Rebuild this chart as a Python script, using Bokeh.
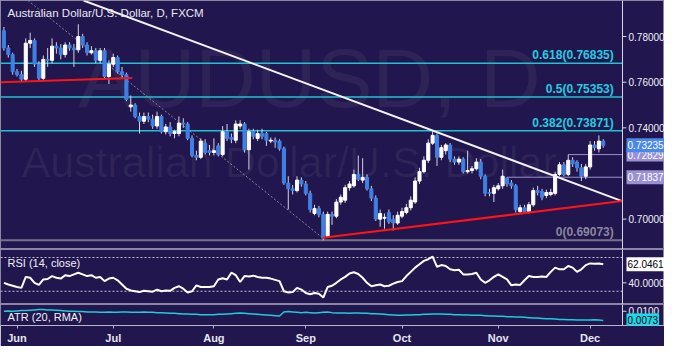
from bokeh.plotting import figure
from bokeh.models import ColumnDataSource, Range1d, FixedTicker, Span, Label
from bokeh.layouts import column
from bokeh.embed import file_html
from bokeh.resources import INLINE

# ---------------- data ----------------
opens = [0.7825, 0.7750, 0.7721, 0.7646, 0.7633, 0.7613, 0.7771, 0.7783, 0.7679, 0.7617,
         0.7700, 0.7696, 0.7758, 0.7750, 0.7721, 0.7763, 0.7750, 0.7742, 0.7800, 0.7763,
         0.7729, 0.7738, 0.7696, 0.7738, 0.7625, 0.7679, 0.7708, 0.7646, 0.7633, 0.7492,
         0.7500, 0.7450, 0.7429, 0.7450, 0.7438, 0.7408, 0.7450, 0.7383, 0.7404, 0.7375,
         0.7375, 0.7421, 0.7417, 0.7354, 0.7279, 0.7271, 0.7333, 0.7300, 0.7292, 0.7321,
         0.7283, 0.7383, 0.7358, 0.7346, 0.7408, 0.7417, 0.7304, 0.7383, 0.7354, 0.7375,
         0.7375, 0.7342, 0.7346, 0.7342, 0.7308, 0.7158, 0.7133, 0.7125, 0.7171, 0.7154,
         0.7113, 0.7025, 0.7046, 0.7021, 0.6925, 0.7021, 0.7013, 0.7075, 0.7083, 0.7138,
         0.7146, 0.7196, 0.7171, 0.7183, 0.7133, 0.7092, 0.7000, 0.7004, 0.7029, 0.7000,
         0.6983, 0.7013, 0.7029, 0.7050, 0.7075, 0.7167, 0.7208, 0.7258, 0.7333, 0.7367,
         0.7271, 0.7300, 0.7325, 0.7263, 0.7250, 0.7263, 0.7208, 0.7213, 0.7221, 0.7250,
         0.7188, 0.7117, 0.7113, 0.7133, 0.7146, 0.7180, 0.7158, 0.7146, 0.7033, 0.7050,
         0.7033, 0.7063, 0.7125, 0.7121, 0.7104, 0.7108, 0.7113, 0.7196, 0.7238, 0.7196,
         0.7258, 0.7250, 0.7225, 0.7188, 0.7229, 0.7325, 0.7308, 0.7342]
highs = [0.7842, 0.7763, 0.7729, 0.7658, 0.7650, 0.7792, 0.7817, 0.7792, 0.7692, 0.7717,
         0.7750, 0.7792, 0.7775, 0.7767, 0.7775, 0.7775, 0.7767, 0.7854, 0.7812, 0.7775,
         0.7758, 0.7750, 0.7750, 0.7750, 0.7696, 0.7725, 0.7717, 0.7667, 0.7642, 0.7542,
         0.7508, 0.7467, 0.7467, 0.7467, 0.7458, 0.7471, 0.7458, 0.7417, 0.7425, 0.7392,
         0.7450, 0.7442, 0.7425, 0.7367, 0.7300, 0.7354, 0.7350, 0.7325, 0.7354, 0.7333,
         0.7408, 0.7417, 0.7375, 0.7433, 0.7433, 0.7425, 0.7396, 0.7396, 0.7392, 0.7396,
         0.7383, 0.7358, 0.7358, 0.7350, 0.7317, 0.7188, 0.7150, 0.7188, 0.7183, 0.7167,
         0.7125, 0.7063, 0.7058, 0.7033, 0.7033, 0.7033, 0.7088, 0.7108, 0.7150, 0.7167,
         0.7217, 0.7279, 0.7267, 0.7196, 0.7146, 0.7104, 0.7042, 0.7025, 0.7042, 0.7017,
         0.7033, 0.7050, 0.7067, 0.7100, 0.7183, 0.7225, 0.7275, 0.7350, 0.7388, 0.7375,
         0.7325, 0.7333, 0.7333, 0.7275, 0.7275, 0.7271, 0.7300, 0.7233, 0.7267, 0.7263,
         0.7196, 0.7133, 0.7150, 0.7158, 0.7217, 0.71837, 0.7171, 0.7154, 0.7063, 0.7063,
         0.7075, 0.7138, 0.7146, 0.7133, 0.7129, 0.7133, 0.7208, 0.7250, 0.7250, 0.72829,
         0.7271, 0.7258, 0.7242, 0.7242, 0.7342, 0.7342, 0.7367, 0.7350]
lows = [0.7738, 0.7708, 0.7633, 0.7625, 0.7600, 0.7604, 0.7750, 0.7667, 0.7608, 0.7608,
        0.7667, 0.7683, 0.7725, 0.7700, 0.7708, 0.7738, 0.7667, 0.7729, 0.7750, 0.7717,
        0.7721, 0.7683, 0.7683, 0.7613, 0.7592, 0.7667, 0.7638, 0.7617, 0.7517, 0.7471,
        0.7442, 0.7375, 0.7417, 0.7425, 0.7396, 0.7396, 0.7375, 0.7371, 0.7363, 0.7354,
        0.7363, 0.7400, 0.7346, 0.7271, 0.7258, 0.7263, 0.7283, 0.7279, 0.7279, 0.7275,
        0.7275, 0.7342, 0.7333, 0.7333, 0.7396, 0.7292, 0.7217, 0.7350, 0.7342, 0.7350,
        0.7321, 0.7333, 0.7313, 0.7300, 0.7150, 0.7042, 0.7108, 0.7117, 0.7142, 0.7104,
        0.7029, 0.7017, 0.7008, 0.6907, 0.6917, 0.6975, 0.7004, 0.7063, 0.7071, 0.7125,
        0.7138, 0.7167, 0.7158, 0.7125, 0.7079, 0.6992, 0.6967, 0.6958, 0.6979, 0.6950,
        0.6975, 0.7004, 0.7021, 0.7038, 0.7067, 0.7154, 0.7200, 0.7246, 0.7325, 0.7233,
        0.7258, 0.7283, 0.7250, 0.7238, 0.7238, 0.7200, 0.7200, 0.7200, 0.7213, 0.7175,
        0.7100, 0.7100, 0.7075, 0.7125, 0.7133, 0.7142, 0.7133, 0.7029, 0.7025, 0.7025,
        0.7025, 0.7054, 0.7104, 0.7083, 0.7092, 0.7100, 0.7104, 0.7188, 0.7188, 0.7188,
        0.7229, 0.7208, 0.7167, 0.7175, 0.7217, 0.7300, 0.7292, 0.7313]
closes = [0.7750, 0.7721, 0.7646, 0.7633, 0.7613, 0.7771, 0.7783, 0.7679, 0.7617, 0.7700,
          0.7696, 0.7758, 0.7750, 0.7721, 0.7763, 0.7750, 0.7742, 0.7800, 0.7763, 0.7729,
          0.7738, 0.7696, 0.7738, 0.7625, 0.7679, 0.7708, 0.7646, 0.7633, 0.7525, 0.7500,
          0.7450, 0.7429, 0.7450, 0.7438, 0.7408, 0.7450, 0.7383, 0.7404, 0.7375, 0.7383,
          0.7421, 0.7417, 0.7354, 0.7279, 0.7271, 0.7342, 0.7292, 0.7292, 0.7300, 0.7283,
          0.7383, 0.7354, 0.7350, 0.7417, 0.7417, 0.7304, 0.7383, 0.7363, 0.7375, 0.7363,
          0.7346, 0.7346, 0.7338, 0.7308, 0.7158, 0.7133, 0.7125, 0.7171, 0.7154, 0.7113,
          0.7042, 0.7046, 0.7021, 0.6917, 0.7021, 0.7013, 0.7075, 0.7096, 0.7138, 0.7154,
          0.7196, 0.7175, 0.7183, 0.7133, 0.7092, 0.7000, 0.7025, 0.7008, 0.6988, 0.6983,
          0.7017, 0.7033, 0.7050, 0.7083, 0.7167, 0.7208, 0.7258, 0.7333, 0.7367, 0.7271,
          0.7313, 0.7325, 0.7263, 0.7250, 0.7263, 0.7208, 0.7213, 0.7221, 0.7250, 0.7188,
          0.7113, 0.7113, 0.7138, 0.7146, 0.7188, 0.7154, 0.7146, 0.7042, 0.7050, 0.7033,
          0.7063, 0.7125, 0.7117, 0.7096, 0.7117, 0.7117, 0.7196, 0.7238, 0.7196, 0.7258,
          0.7242, 0.7225, 0.7188, 0.7229, 0.7325, 0.7313, 0.7342, 0.73235]
rsi = [40, 38, 36.5, 35, 34, 47, 46, 40, 37.5, 44,
       44.5, 48, 46, 45, 49, 48, 50, 52, 50, 48,
       49, 46, 47, 42, 45, 46, 43, 38, 33, 31,
       30, 29, 30.5, 30, 29.5, 32, 30, 31, 30.5, 34,
       36, 33, 28.5, 30, 37, 35, 35, 35, 36, 44,
       45.5, 44, 52, 49, 41, 48, 47.5, 48.5, 47, 46,
       46, 45, 43.5, 42, 30, 28.5, 29, 34, 32, 28,
       26.5, 28, 27, 22.5, 35, 36.5, 40, 44, 47, 51,
       52.5, 50.5, 46, 40, 36, 37, 38, 36, 36.5, 39,
       41, 42, 48, 53, 58, 62, 66, 68, 71, 59,
       61, 60, 56, 55, 55.5, 50, 50, 50.5, 52, 44,
       40, 43, 47, 50, 47, 44, 37, 38, 37.5, 43,
       48, 47, 47, 47.5, 47, 53, 58, 56, 56, 60,
       58, 53, 56, 61, 63, 62.5, 63, 62.0461]
atr = [0.0100, 0.0101, 0.0100, 0.0101, 0.0102, 0.0102, 0.0103, 0.0104, 0.0105, 0.0105,
       0.0104, 0.0104, 0.0103, 0.0102, 0.0101, 0.0100, 0.0100, 0.0099, 0.0099, 0.0098,
       0.0098, 0.0098, 0.0097, 0.0097, 0.0098, 0.0097, 0.0097, 0.0098, 0.0098, 0.0097,
       0.0097, 0.0097, 0.0098, 0.0097, 0.0097, 0.0096, 0.0096, 0.0095, 0.0094, 0.0094,
       0.0093, 0.0092, 0.0092, 0.0091, 0.0091, 0.0090, 0.0090, 0.0090, 0.0090, 0.0091,
       0.0091, 0.0092, 0.0093, 0.0094, 0.0095, 0.0094, 0.0093, 0.0092, 0.0091, 0.0090,
       0.0089, 0.0088, 0.0087, 0.0086, 0.0098, 0.0099, 0.0098, 0.0097, 0.0096, 0.0097,
       0.0096, 0.0095, 0.0096, 0.0097, 0.0098, 0.0096, 0.0095, 0.0095, 0.0095, 0.0094,
       0.0095, 0.0095, 0.0094, 0.0094, 0.0093, 0.0093, 0.0092, 0.0091, 0.0090, 0.0089,
       0.0088, 0.0088, 0.0089, 0.0089, 0.0090, 0.0090, 0.0091, 0.0091, 0.0092, 0.0092,
       0.0092, 0.0091, 0.0091, 0.0090, 0.0090, 0.0089, 0.0089, 0.0088, 0.0088, 0.0088,
       0.0087, 0.0086, 0.0086, 0.0085, 0.0085, 0.0084, 0.0084, 0.0083, 0.0083, 0.0082,
       0.0081, 0.0080, 0.0080, 0.0079, 0.0078, 0.0078, 0.0077, 0.0076, 0.0076, 0.0075,
       0.0075, 0.0074, 0.0074, 0.0074, 0.0074, 0.0075, 0.0074, 0.0073]

month_ticks = [3, 25, 48, 69, 91, 113, 134]
month_labels = ["Jun", "Jul", "Aug", "Sep", "Oct", "Nov", "Dec"]

fib_levels = [0.76835, 0.75353, 0.73871, 0.69073]
fib_names = ["0.618", "0.5", "0.382", "0"]

price_ticks = [0.70, 0.74, 0.76, 0.78]
rsi_ticks = [40]
atr_ticks = [0.01]
rsi_bands = [70, 30]
marker_levels = [0.72829, 0.71837]
marker_starts = [129, 115]
last_close = 0.73235
rsi_last = 62.0461
atr_last = 0.0073

# trend lines (candle index, price)
white_tl_x = [18.2, 141.3]
white_tl_y = [0.7958, 0.7079]
red_tl1_x = [-0.8, 29.35]
red_tl1_y = [0.7600, 0.7618]
red_tl2_x = [72.9, 141.3]
red_tl2_y = [0.6918, 0.7079]
fib_diag_x = [5.5, 72.9]
fib_diag_y = [0.7958, 0.6917]

# ---------------- styling ----------------
BG = "#21164d"
UP = "#ffffff"
DOWN = "#3f80e4"
WICK = "#d4d4e2"
CYAN = "#1cc3d4"
AXIS_COL = "#d8d8e4"
FONT = "Liberation Sans"
FRAME_W = 664
X_START, X_AXIS, X_FULL = -0.78, 141.4, 151.0
TICK_LEN = 0.9
xr = Range1d(X_START, X_FULL)


def make_fig(frame_h, y_lo, y_hi, bottom=0):
    f = figure(x_range=xr, y_range=Range1d(y_lo, y_hi), frame_width=FRAME_W, frame_height=frame_h,
               output_backend="svg", toolbar_location=None, tools="",
               x_axis_location=("below" if bottom else None), y_axis_location=None,
               min_border_left=0, min_border_top=0, min_border_bottom=bottom, min_border_right=0,
               background_fill_color=BG, border_fill_color=BG, outline_line_color="#8a86a6")
    f.grid.visible = False
    f.add_layout(Span(location=X_AXIS, dimension="height", line_color=AXIS_COL, line_width=1))
    return f


def right_ticks(fig, ticks, fmt):
    fig.segment(x0=[X_AXIS] * len(ticks), y0=ticks, x1=[X_AXIS + TICK_LEN] * len(ticks), y1=ticks,
                line_color=AXIS_COL, line_width=1)
    for t in ticks:
        fig.add_layout(Label(x=X_AXIS, y=t, text=fmt.format(t), x_offset=6, text_align="left",
                             text_baseline="middle", text_font=FONT, text_font_size="10px",
                             text_color="#f0f0f8"))


def value_box(fig, y, text, bg, fg):
    fig.add_layout(Label(x=X_AXIS, y=y, text=text, x_offset=4, text_align="left",
                         text_baseline="middle", text_font=FONT, text_font_size="10px",
                         text_color=fg, background_fill_color=bg, padding=(1, 3)))


# ---------------- main price panel ----------------
MAIN_H = 249
p = make_fig(MAIN_H, 0.6867, 0.7958)

p.add_layout(Label(x=78, y=125, x_units="screen", y_units="screen", text="AUDUSD, D",
                   text_font=FONT, text_font_size="84px", text_color="#ffffff", text_alpha=0.06,
                   level="underlay"))
p.add_layout(Label(x=21, y=64, x_units="screen", y_units="screen", text="Australian Dollar/U.S. Dollar",
                   text_font=FONT, text_font_size="43px", text_color="#ffffff", text_alpha=0.06,
                   level="underlay"))

fib_cols = ["#77738e" if n == "0" else CYAN for n in fib_names]
fib_widths = [2 if n == "0" else 1.5 for n in fib_names]
p.segment(x0=[X_START] * len(fib_levels), y0=fib_levels, x1=[X_AXIS] * len(fib_levels), y1=fib_levels,
          line_color=fib_cols, line_width=fib_widths)
for lvl, name in zip(fib_levels, fib_names):
    p.add_layout(Label(x=X_AXIS - 2.0, y=lvl, text=f"{name}({lvl:.5f})", text_align="right",
                       text_baseline="bottom", y_offset=1, text_font=FONT, text_font_size="12px",
                       text_font_style="bold", text_color=("#8a879e" if name == "0" else "#22cde0")))

p.segment(x0=marker_starts, y0=marker_levels, x1=[X_AXIS] * len(marker_levels), y1=marker_levels,
          line_color="#9a92cc", line_width=1)

p.line(fib_diag_x, fib_diag_y, line_color="#8a879e", line_width=1, line_dash="2 2")

idx = list(range(len(closes)))
src = ColumnDataSource(dict(
    x=idx, h=highs, l=lows,
    top=[max(o, c) for o, c in zip(opens, closes)],
    bottom=[min(o, c) for o, c in zip(opens, closes)],
    color=[UP if c >= o else DOWN for o, c in zip(opens, closes)],
))
p.segment(x0="x", y0="h", x1="x", y1="l", source=src, line_color=WICK, line_width=1)
p.vbar(x="x", width=0.7, top="top", bottom="bottom", source=src,
       fill_color="color", line_color="color", line_width=1)

p.line(white_tl_x, white_tl_y, line_color="#f2f2f6", line_width=2)
p.line(red_tl1_x, red_tl1_y, line_color="#ff1414", line_width=2)
p.line(red_tl2_x, red_tl2_y, line_color="#ff1414", line_width=2)

p.add_layout(Label(x=7, y=MAIN_H - 18, x_units="screen", y_units="screen",
                   text="Australian Dollar/U.S. Dollar, D, FXCM", text_font=FONT,
                   text_font_size="11.5px", text_color="#e8e8f2"))

right_ticks(p, price_ticks, "{:.5f}")
value_box(p, marker_levels[1], f"{marker_levels[1]:.5f}", "#9a90d4", "#ffffff")
value_box(p, marker_levels[0], f"{marker_levels[0]:.5f}", "#9a90d4", "#ffffff")
value_box(p, last_close, f"{last_close:.5f}", "#4a88ea", "#ffffff")

# ---------------- RSI panel ----------------
RSI_H = 55
r = make_fig(RSI_H, 14.3, 79.5)
r.segment(x0=[X_START] * len(rsi_bands), y0=rsi_bands, x1=[X_AXIS] * len(rsi_bands), y1=rsi_bands,
          line_color="#c4c2d6", line_width=1, line_dash="2 2")
r.line(idx, rsi, line_color="#ffffff", line_width=2)
r.add_layout(Label(x=7, y=RSI_H - 19, x_units="screen", y_units="screen", text="RSI (14, close)",
                   text_font=FONT, text_font_size="11px", text_color="#f0f0f8"))
right_ticks(r, rsi_ticks, "{:.4f}")
value_box(r, rsi_last, f"{rsi_last:.4f}", "#ffffff", "#000000")

# ---------------- ATR panel ----------------
ATR_H = 21
a = make_fig(ATR_H, 0.0058, 0.0120, bottom=20)
a.line(idx, atr, line_color="#19cddd", line_width=1.5)
a.add_layout(Label(x=7, y=3, x_units="screen", y_units="screen", text="ATR (20, RMA)",
                   text_font=FONT, text_font_size="11px", text_color="#f0f0f8"))
right_ticks(a, atr_ticks, "{:.4f}")
value_box(a, atr_last, f"{atr_last:.4f}", "#19d9ea", "#000000")

xa = a.xaxis[0]
xa.ticker = FixedTicker(ticks=month_ticks)
xa.major_label_overrides = {t: m for t, m in zip(month_ticks, month_labels)}
xa.axis_line_color = "#b8b6cc"
xa.major_tick_line_color = "#b8b6cc"
xa.major_tick_out = 3
xa.major_tick_in = 0
xa.minor_tick_line_color = None
xa.major_label_text_color = "#e6e6f0"
xa.major_label_text_font = FONT
xa.major_label_text_font_size = "11px"
xa.major_label_text_font_style = "bold"
xa.major_label_standoff = 3

layout = column(p, r, a, spacing=0)
open("out.html", "w").write(file_html(layout, INLINE))
